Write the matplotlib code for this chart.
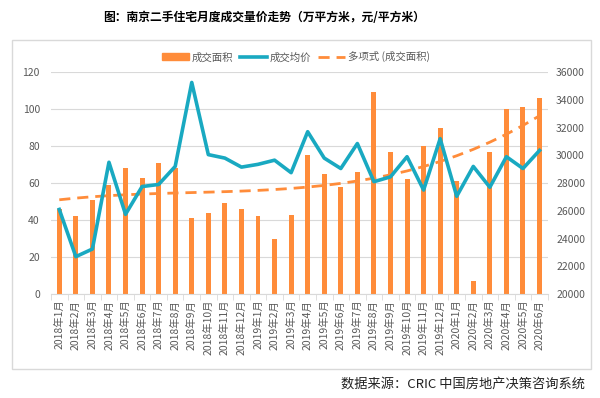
import numpy as np
import matplotlib.pyplot as plt
from matplotlib.lines import Line2D
from matplotlib.patches import Patch, Rectangle

plt.rcParams['font.family'] = ['Noto Sans CJK SC', 'DejaVu Sans']

months = [f"2018年{m}月" for m in range(1, 13)] + \
         [f"2019年{m}月" for m in range(1, 13)] + \
         [f"2020年{m}月" for m in range(1, 7)]

area = [46, 42, 51, 59, 68, 63, 71, 68, 41, 44, 49, 46,
        42, 30, 43, 75, 65, 58, 66, 109, 77, 62, 80, 90,
        61, 7, 77, 100, 101, 106]

price = [26100, 22700, 23250, 29500, 25750, 27750, 27900, 29200, 35250, 30050, 29800, 29150,
         29350, 29650, 28750, 31700, 29800, 29050, 30850, 28100, 28450, 29900, 27500, 31200,
         27050, 29200, 27700, 29900, 29050, 30350]

orange = "#FF8C3A"
teal = "#19A9C1"
grey = "#595959"

fig = plt.figure(figsize=(6, 3.98), dpi=100)
fig.patches.append(Rectangle((0.02, 0.073), 0.965, 0.827, transform=fig.transFigure,
                             fill=False, edgecolor="#D9D9D9", linewidth=1))

ax1 = fig.add_axes([0.085, 0.261, 0.828, 0.558])
x = np.arange(len(months))

ax1.set_axisbelow(True)
ax1.yaxis.grid(True, color="#D9D9D9", linewidth=0.8)
ax1.bar(x, area, width=0.3, color=orange, zorder=2)

# polynomial trend of the area series (cubic, as in the source chart)
coef = np.polyfit(x, area, 3)
ax1.plot(x, np.polyval(coef, x), color=orange, linestyle=(0, (4, 2.5)), linewidth=2, zorder=3)

ax1.set_ylim(0, 120)
ax1.set_yticks(range(0, 121, 20))
ax1.set_xlim(-0.5, len(months) - 0.5)
ax1.set_xticks(x)
ax1.set_xticklabels(months, rotation=90, fontsize=7.5, color=grey)
ax1.set_xticks(np.arange(-0.5, len(months), 1), minor=True)
ax1.tick_params(axis='x', which='major', length=0, pad=4)
ax1.tick_params(axis='x', which='minor', length=4, color="#D9D9D9")
ax1.tick_params(axis='y', length=0, labelsize=7.5, labelcolor=grey, pad=8)
for s in ["top", "right", "left"]:
    ax1.spines[s].set_visible(False)
ax1.spines["bottom"].set_color("#D9D9D9")

ax2 = ax1.twinx()
ax2.plot(x, price, color=teal, linewidth=2.6, zorder=4)
ax2.set_ylim(20000, 36000)
ax2.set_yticks(range(20000, 36001, 2000))
ax2.tick_params(axis='y', length=0, labelsize=7.5, labelcolor=grey, pad=6)
for s in ax2.spines.values():
    s.set_visible(False)

handles = [Patch(color=orange),
           Line2D([], [], color=teal, linewidth=2.6),
           Line2D([], [], color=orange, linewidth=2, linestyle=(0, (4, 2.5)))]
fig.legend(handles, ["成交面积", "成交均价", "多项式 (成交面积)"], loc="center",
           bbox_to_anchor=(0.493, 0.857), ncol=3, frameon=False, fontsize=7.5,
           labelcolor=grey, handlelength=2.6, handletextpad=0.3, columnspacing=0.6)

fig.text(0.44, 0.957, "图：南京二手住宅月度成交量价走势（万平方米，元/平方米）",
         ha="center", va="center", fontsize=8.5, fontweight="bold")
fig.text(0.975, 0.035, "数据来源：CRIC 中国房地产决策咨询系统", ha="right", va="center",
         fontsize=9.5, color="#222222")

fig.savefig("out.png", dpi=100)
